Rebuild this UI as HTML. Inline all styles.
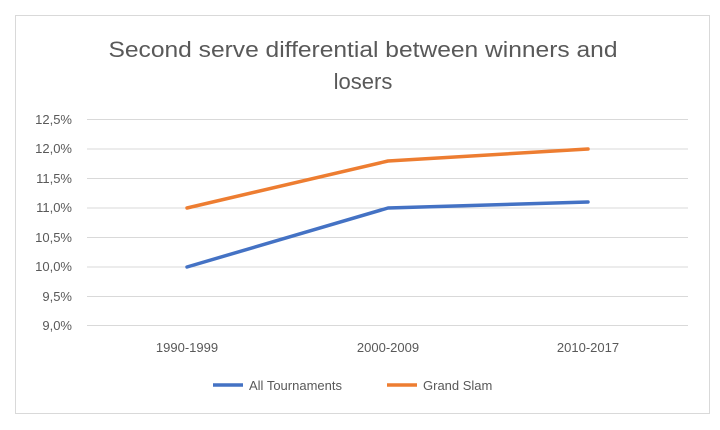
<!DOCTYPE html><html><head><style>body{margin:0;background:#fff}</style></head><body>
<svg width="720" height="425" xmlns="http://www.w3.org/2000/svg" font-family="Liberation Sans, sans-serif">
<rect x="15.5" y="15.5" width="694" height="398" fill="#fff" stroke="#d9d9d9"/>
<text x="363" y="57" text-anchor="middle" font-size="22" fill="#595959" textLength="509" lengthAdjust="spacingAndGlyphs">Second serve differential between winners and</text>
<text x="363" y="89" text-anchor="middle" font-size="22" fill="#595959">losers</text>
<g stroke="#d9d9d9" stroke-width="1">
<line x1="87" x2="688" y1="119.5" y2="119.5"/><line x1="87" x2="688" y1="149" y2="149"/>
<line x1="87" x2="688" y1="178.5" y2="178.5"/><line x1="87" x2="688" y1="208" y2="208"/>
<line x1="87" x2="688" y1="237.5" y2="237.5"/><line x1="87" x2="688" y1="267" y2="267"/>
<line x1="87" x2="688" y1="296.5" y2="296.5"/><line x1="87" x2="688" y1="325.5" y2="325.5"/>
</g>
<g font-size="13" fill="#595959" text-anchor="end">
<text x="72" y="124">12,5%</text><text x="72" y="153">12,0%</text><text x="72" y="183">11,5%</text>
<text x="72" y="212">11,0%</text><text x="72" y="242">10,5%</text><text x="72" y="271">10,0%</text>
<text x="72" y="301">9,5%</text><text x="72" y="330">9,0%</text>
</g>
<g font-size="13" fill="#595959" text-anchor="middle">
<text x="187" y="352">1990-1999</text><text x="388" y="352">2000-2009</text><text x="588" y="352">2010-2017</text>
</g>
<polyline points="187,267 388,208 588,202" fill="none" stroke="#4472c4" stroke-width="3.5" stroke-linejoin="round" stroke-linecap="round"/>
<polyline points="187,208 388,161 588,149" fill="none" stroke="#ed7d31" stroke-width="3.5" stroke-linejoin="round" stroke-linecap="round"/>
<line x1="213" x2="243" y1="385" y2="385" stroke="#4472c4" stroke-width="3.5"/>
<text x="249" y="390" font-size="13" fill="#595959">All Tournaments</text>
<line x1="387" x2="417" y1="385" y2="385" stroke="#ed7d31" stroke-width="3.5"/>
<text x="423" y="390" font-size="13" fill="#595959">Grand Slam</text>
</svg>
</body></html>
